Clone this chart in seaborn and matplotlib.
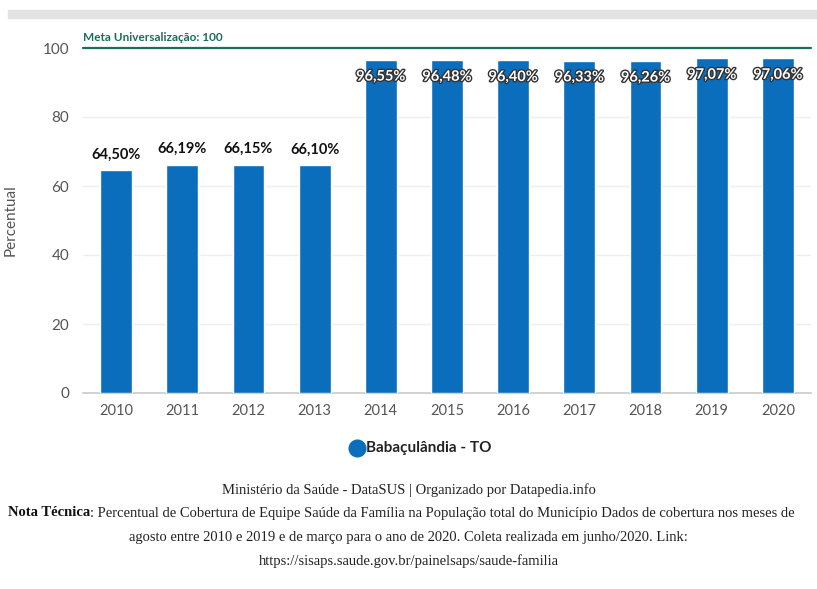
import numpy as np
import pandas as pd
import matplotlib
matplotlib.use('Agg')
import matplotlib.pyplot as plt
import matplotlib.patheffects as pe
from matplotlib.patches import Rectangle
from matplotlib.lines import Line2D
import seaborn as sns

years = ["2010", "2011", "2012", "2013", "2014", "2015", "2016", "2017", "2018", "2019", "2020"]
coverage = [64.50, 66.19, 66.15, 66.10, 96.55, 96.48, 96.40, 96.33, 96.26, 97.07, 97.06]
series_name = "Babaçulândia - TO"
goal_value = 100
goal_label = "Meta Universalização: 100"
y_ticks = [0, 20, 40, 60, 80, 100]

bar_color = "#0a6ebd"
goal_color = "#1b6e5c"
grey_text = "#555555"

sns.set_theme(style="white")
plt.rcParams['font.family'] = ['Lato', 'DejaVu Sans']

fig = plt.figure(figsize=(8.17, 5.89), dpi=100)
ax = fig.add_axes([83 / 817, 1 - 393 / 589, (811 - 83) / 817, (393 - 48) / 589])

df = pd.DataFrame({"ano": years, "valor": coverage})
sns.barplot(data=df, x="ano", y="valor", color=bar_color, width=0.48,
            saturation=1, ax=ax, zorder=3)

ax.set_ylim(0, goal_value)
ax.set_xlim(-0.5, len(years) - 0.5)
ax.set_yticks(y_ticks)
ax.set_yticklabels([str(t) for t in y_ticks], color=grey_text, fontsize=11)
ax.set_xticklabels(years, color=grey_text, fontsize=10.5)
ax.tick_params(axis='x', which='major', length=0, pad=8)
ax.tick_params(axis='y', length=0, pad=10)
ax.set_xticks(np.arange(-0.5, len(years), 1.0), minor=True)
ax.tick_params(axis='x', which='minor', length=7, color="#cccccc", width=0.8)
ax.grid(axis='y', color="#eeeeee", linewidth=1, zorder=0)
ax.set_xlabel("")
ax.set_ylabel("Percentual", color=grey_text, fontsize=11, labelpad=18)
for side in ["top", "right", "left"]:
    ax.spines[side].set_visible(False)
ax.spines["bottom"].set_color("#cccccc")

# linha da meta
ax.axhline(goal_value, color=goal_color, linewidth=1.6, zorder=4, clip_on=False)
ax.text(-0.5, goal_value + 1.5, goal_label, ha="left", va="bottom",
        fontsize=8.5, fontweight="bold", color=goal_color)

# rótulos dos valores
for i, v in enumerate(coverage):
    txt = f"{v:.2f}%".replace(".", ",")
    if v < 90:
        ax.text(i, v + 2.5, txt, ha="center", va="bottom", fontsize=10.5,
                fontweight="bold", color="#111111", zorder=5)
    else:
        ax.text(i, v - 2.8, txt, ha="center", va="top", fontsize=10.5,
                fontweight="bold", color="white", zorder=5,
                path_effects=[pe.withStroke(linewidth=2, foreground="#333333")])

# faixa cinza no topo
fig.patches.append(Rectangle((8 / 817, 1 - 18 / 589), 809 / 817, 8 / 589,
                             transform=fig.transFigure, color="#e3e3e3", zorder=0))

# legenda
fig.add_artist(Line2D([357 / 817], [1 - 448 / 589], marker="o", markersize=12,
                      color=bar_color, linestyle="none", transform=fig.transFigure))
fig.text(366 / 817, 1 - 448 / 589, series_name, ha="left", va="center",
         fontsize=11, fontweight="bold", color="#222222")

# rodapé
serif = ['Liberation Serif', 'DejaVu Serif']
fs = 10.5
fig.text(0.5, 1 - 490 / 589, "Ministério da Saúde - DataSUS | Organizado por Datapedia.info",
         ha="center", va="center", fontsize=fs, family=serif, color="#222222")
bold = fig.text(8 / 817, 1 - 513 / 589, "Nota Técnica", ha="left", va="center",
                fontsize=fs, family=serif, fontweight="bold", color="#111111")
renderer = fig.canvas.get_renderer()
bb = bold.get_window_extent(renderer=renderer)
fig.text(bb.x1 / fig.bbox.width, 1 - 513 / 589,
         ": Percentual de Cobertura de Equipe Saúde da Família na População total do Município Dados de cobertura nos meses de",
         ha="left", va="center", fontsize=fs, family=serif, color="#222222")
fig.text(0.5, 1 - 537 / 589,
         "agosto entre 2010 e 2019 e de março para o ano de 2020. Coleta realizada em junho/2020. Link:",
         ha="center", va="center", fontsize=fs, family=serif, color="#222222")
fig.text(0.5, 1 - 561 / 589, "https://sisaps.saude.gov.br/painelsaps/saude-familia",
         ha="center", va="center", fontsize=fs, family=serif, color="#222222")

fig.savefig("out.png", dpi=100)
